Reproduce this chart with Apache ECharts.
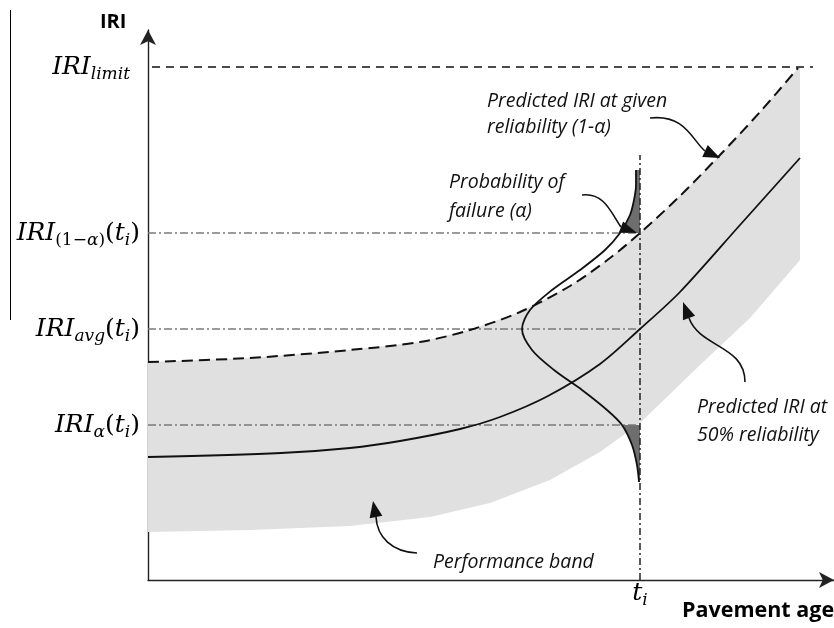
<!DOCTYPE html>
<html>
<head>
<meta charset="utf-8">
<script src="https://cdn.jsdelivr.net/npm/echarts@6/dist/echarts.min.js"></script>
<style>
  html, body { margin: 0; padding: 0; background: #fff; }
  #chart { width: 834px; height: 628px; }
</style>
</head>
<body>
<div id="chart"></div>
<script>
// Axis extents (arbitrary units: pavement age vs. IRI)
const ageMax = 686;
const iriMax = 550;

// Inspection age t_i and the IRI levels read at that age
const tI = 492;
const tILineTop = 425;
const iriLimit = 513;
const limitStart = 4;
const limitEnd = 665;
const levelValues = [155, 251, 347];          // IRI_alpha, IRI_avg, IRI_(1-alpha)

// Predicted IRI at given reliability (1 - alpha)
const reliableAge = [0, 102, 202, 272, 322, 372, 422, 462, 492, 532, 572, 612, 650];
const reliableIri = [218, 222, 230, 238, 250, 268, 294, 322, 347, 384, 425, 468, 512];

// Predicted IRI at 50% reliability
const medianAge = [0, 133, 202, 252, 312, 352, 400, 452, 492, 532, 592, 652];
const medianIri = [123, 127, 132, 139, 151, 163, 184, 216, 251, 288, 355, 422];

// Lower edge of the performance band
const lowerAge = [0, 102, 202, 282, 342, 402, 452, 492, 552, 602, 652];
const lowerIri = [48, 50, 54, 63, 77, 100, 128, 157, 215, 262, 320];

// Distribution of IRI at t_i (drawn sideways against the t_i line)
const bellIri = [410, 395, 380, 365, 347, 330, 310, 290, 270, 251, 230, 210, 190, 170, 155, 135, 115, 98];
const bellAge = [488, 488, 486, 482, 472, 457, 432, 404, 382, 374, 384, 406, 434, 459, 474, 484, 489, 491];

// Axis tick labels
const yTickValues = [levelValues[0], levelValues[1], levelValues[2], iriLimit];
const yTickLabels = [
  '{m|IRI}{s|α}{u|(}{m|t}{s|i}{u|)}',
  '{m|IRI}{s|avg}{u|(}{m|t}{s|i}{u|)}',
  '{m|IRI}{su|(1−}{s|α}{su|)}{u|(}{m|t}{s|i}{u|)}',
  '{m|IRI}{sl|limit}'
];
const xTickValues = [tI];
const xTickLabels = ['{m|t}{s|i}'];

const zip = (xs, ys) => xs.map((x, i) => [x, ys[i]]);
const reliable = zip(reliableAge, reliableIri);
const median = zip(medianAge, medianIri);
const lower = zip(lowerAge, lowerIri);
const bell = zip(bellAge, bellIri);

const mathFont = '"DejaVu Serif"';
const mathRich = {
  m:  { fontFamily: mathFont, fontStyle: 'italic', fontSize: 25, color: '#000', lineHeight: 27 },
  u:  { fontFamily: mathFont, fontSize: 25, color: '#000', lineHeight: 27 },
  s:  { fontFamily: mathFont, fontStyle: 'italic', fontSize: 17, color: '#000', lineHeight: 17, padding: [15, 0, 0, 0] },
  su: { fontFamily: mathFont, fontSize: 17, color: '#000', lineHeight: 17, padding: [15, 0, 0, 0] },
  sl: { fontFamily: mathFont, fontStyle: 'italic', fontSize: 17, color: '#000', lineHeight: 17, padding: [15, 10, 0, 0] }
};

// Filled polygon from a list of data points
function polygonSeries(points, fill, z) {
  return {
    type: 'custom',
    z: z,
    silent: true,
    data: [0],
    renderItem: function (params, api) {
      return {
        type: 'polygon',
        shape: { points: points.map(p => api.coord(p)) },
        style: { fill: fill, stroke: null }
      };
    }
  };
}

// Performance band: reliability curve on top, lower edge below, closed at the right end
const bandRightX = lowerAge[lowerAge.length - 1];
const bandPoints = reliable
  .concat([[bandRightX, reliableIri[reliableIri.length - 1]]])
  .concat(lower.slice().reverse());

// Tails of the distribution beyond the alpha levels
const topTail = bell.filter(p => p[1] >= levelValues[2]);
const topTailPoly = topTail.concat([[tI, levelValues[2]], [tI, topTail[0][1]]]);
const bottomTail = bell.filter(p => p[1] <= levelValues[0]);
const bottomTailPoly = bottomTail.concat([[tI, bottomTail[bottomTail.length - 1][1]], [tI, levelValues[0]]]);

const levelSeries = levelValues.map(v => ({
  type: 'line', z: 3, symbol: 'none', silent: true,
  data: [[0, v], [tI, v]],
  lineStyle: { color: '#7a7a7a', width: 1.3, type: [8, 3, 2, 3] }
}));

// Curved pointer with a filled head, drawn above the plot
function curvedArrow(p0, c1, c2, p1, tip, headW) {
  const dx = tip[0] - p1[0], dy = tip[1] - p1[1];
  const len = Math.hypot(dx, dy);
  const nx = -dy / len, ny = dx / len;
  return [
    { type: 'bezierCurve', silent: true, z: 100,
      shape: { x1: p0[0], y1: p0[1], cpx1: c1[0], cpy1: c1[1], cpx2: c2[0], cpy2: c2[1], x2: p1[0], y2: p1[1] },
      style: { stroke: '#111', lineWidth: 1.6, fill: 'none' } },
    { type: 'polygon', silent: true, z: 100,
      shape: { points: [tip, [p1[0] + nx * headW / 2, p1[1] + ny * headW / 2], [p1[0] - nx * headW / 2, p1[1] - ny * headW / 2]] },
      style: { fill: '#111' } }
  ];
}

const noteFont = 'italic 19.5px "Open Sans"';
function note(text, x, y) {
  return { type: 'text', x: x, y: y, silent: true, z: 100,
    style: { text: text, font: noteFont, fill: '#111', verticalAlign: 'middle' } };
}

const chart = echarts.init(document.getElementById('chart'));
chart.setOption({
  animation: false,
  backgroundColor: '#fff',
  grid: { left: 148, right: 0, top: 30, bottom: 48 },
  xAxis: {
    type: 'value', min: 0, max: ageMax,
    splitLine: { show: false },
    axisTick: { show: false },
    axisLine: { show: true, symbol: ['none', 'arrow'], symbolSize: [12, 15], lineStyle: { color: '#222', width: 1.4 } },
    axisLabel: {
      customValues: xTickValues,
      formatter: v => xTickLabels[xTickValues.indexOf(v)],
      margin: 0,
      rich: mathRich
    }
  },
  yAxis: {
    type: 'value', min: 0, max: iriMax,
    splitLine: { show: false },
    axisTick: { show: false },
    axisLine: { show: true, symbol: ['none', 'arrow'], symbolSize: [12, 15], lineStyle: { color: '#222', width: 1.4 } },
    axisLabel: {
      customValues: yTickValues,
      formatter: v => yTickLabels[yTickValues.indexOf(v)],
      margin: 8,
      rich: mathRich
    }
  },
  series: [
    polygonSeries(bandPoints, '#e0e0e0', 1),
    polygonSeries(topTailPoly, '#6e6e6e', 2),
    polygonSeries(bottomTailPoly, '#6e6e6e', 2),
    ...levelSeries,
    { type: 'line', z: 3, symbol: 'none', silent: true,
      data: [[tI, 0], [tI, tILineTop]],
      lineStyle: { color: '#222', width: 1.5, type: [7, 3, 2, 3] } },
    { type: 'line', z: 3, symbol: 'none', silent: true,
      data: [[limitStart, iriLimit], [limitEnd, iriLimit]],
      lineStyle: { color: '#111', width: 1.6, type: [8, 6] } },
    { type: 'line', z: 4, symbol: 'none', silent: true, smooth: 0.3,
      data: median, lineStyle: { color: '#111', width: 1.8 } },
    { type: 'line', z: 4, symbol: 'none', silent: true, smooth: 0.3,
      data: reliable, lineStyle: { color: '#111', width: 2, type: [11, 6] } },
    { type: 'line', z: 5, symbol: 'none', silent: true, smooth: 0.3,
      data: bell, lineStyle: { color: '#111', width: 1.8 } }
  ],
  graphic: [
    { type: 'line', silent: true, z: 100, shape: { x1: 10.5, y1: 10, x2: 10.5, y2: 320 }, style: { stroke: '#000', lineWidth: 1 } },
    { type: 'text', x: 100, y: 22, silent: true, z: 100, style: { text: 'IRI', font: 'bold 20px "Open Sans"', fill: '#000', verticalAlign: 'middle' } },
    { type: 'text', x: 682, y: 611, silent: true, z: 100, style: { text: 'Pavement age', font: 'bold 21.5px "Open Sans"', fill: '#000', verticalAlign: 'middle' } },
    note('Predicted IRI at given', 487, 101),
    note('reliability (1-α)', 487, 127),
    note('Probability of', 449, 182),
    note('failure (α)', 449, 211),
    note('Predicted IRI at', 697, 407),
    note('50% reliability', 697, 435),
    note('Performance band', 433, 562),
    ...curvedArrow([650, 118], [685, 114], [692, 140], [705, 151], [720, 158], 13),
    ...curvedArrow([582, 195], [605, 192], [612, 215], [621, 227], [637, 233], 12),
    ...curvedArrow([745, 382], [745, 345], [700, 348], [689, 318], [683, 302], 13),
    ...curvedArrow([417, 553], [392, 552], [377, 537], [376, 517], [373, 501], 13)
  ]
});
</script>
</body>
</html>
